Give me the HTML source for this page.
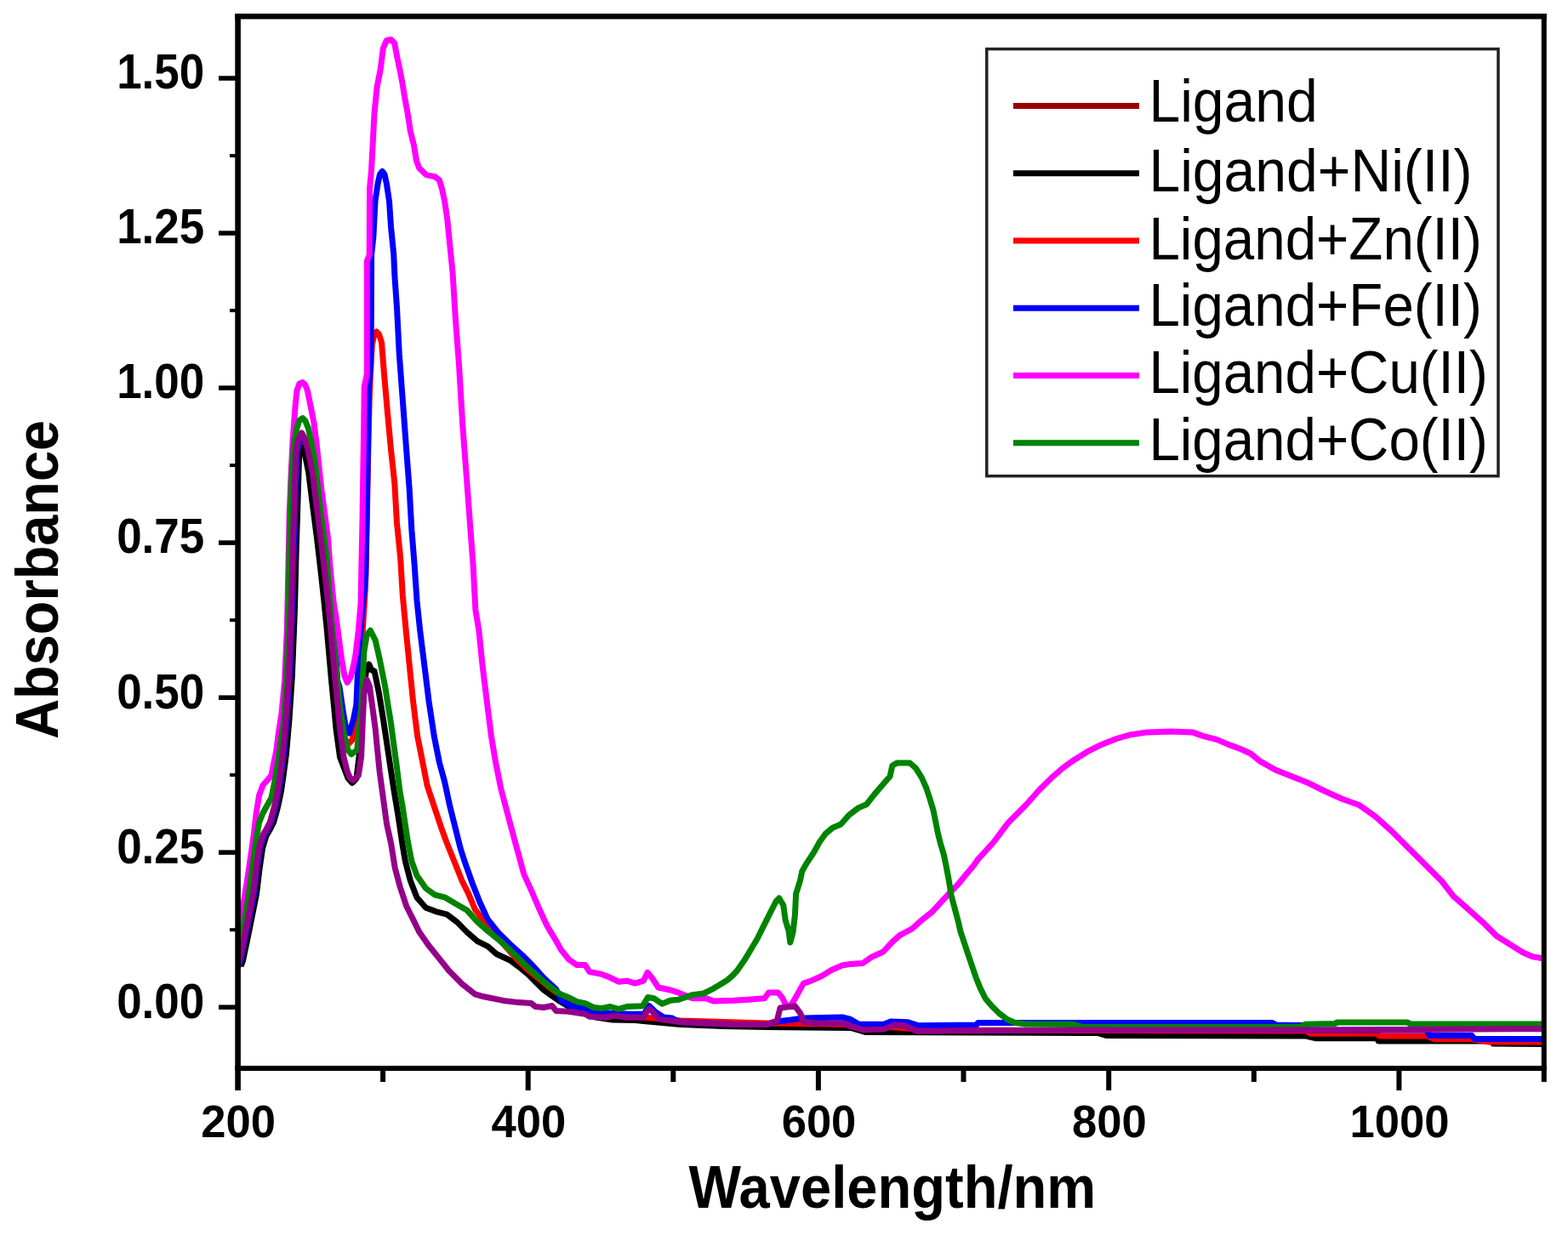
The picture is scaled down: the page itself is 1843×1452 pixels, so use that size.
<!DOCTYPE html>
<html><head><meta charset="utf-8"><title>UV-Vis absorbance spectra</title>
<style>html,body{margin:0;padding:0;background:#fff;}body{width:1843px;height:1452px;overflow:hidden;}svg{display:block;}</style>
</head><body>
<svg width="1843" height="1452" viewBox="0 0 1843 1452">
<rect width="1843" height="1452" fill="#fff"/>
<defs><clipPath id="pc"><rect x="279" y="19" width="1536" height="1237"/></clipPath></defs>
<g clip-path="url(#pc)" fill="none" stroke-linejoin="round" stroke-linecap="butt">
<path d="M283.0,1136.0 L285.4,1130.0 L290.7,1104.8 L296.1,1078.0 L301.5,1051.0 L305.0,1022.0 L308.6,997.0 L313.0,982.5 L317.0,976.0 L321.5,967.0 L326.5,949.0 L330.5,930.0 L333.5,909.0 L336.5,886.0 L340.0,846.0 L343.3,796.0 L345.5,741.0 L346.6,711.0 L348.0,653.0 L349.8,595.0 L351.6,537.3 L354.0,519.0 L355.0,519.0 L357.5,521.0 L356.9,526.7 L362.7,555.6 L367.5,594.0 L372.5,632.7 L377.0,671.0 L380.7,705.0 L384.0,738.0 L386.5,766.0 L390.0,805.0 L392.5,830.0 L395.0,857.0 L399.5,890.0 L409.0,915.0 L413.9,920.5 L419.0,915.0 L422.0,890.0 L425.0,845.0 L428.0,805.0 L431.0,786.0 L433.7,781.0 L437.0,788.0 L440.0,788.8 L445.2,813.6 L450.3,844.6 L456.5,886.0 L462.7,927.3 L467.9,958.3 L473.2,994.0 L476.4,1012.7 L482.4,1035.5 L490.0,1055.2 L500.6,1067.3 L512.7,1071.8 L524.8,1074.8 L537.0,1083.9 L549.1,1096.1 L561.2,1106.7 L573.3,1112.7 L583.9,1121.8 L599.5,1129.0 L609.8,1136.6 L619.5,1144.4 L629.3,1154.2 L639.1,1164.0 L648.8,1170.8 L658.6,1177.6 L670.3,1184.5 L700.0,1196.0 L720.0,1199.0 L746.5,1199.5 L800.0,1204.5 L850.0,1206.5 L900.0,1207.5 L1000.0,1208.5 L1017.0,1213.5 L1290.0,1214.5 L1300.0,1217.5 L1535.0,1218.0 L1546.0,1220.7 L1619.0,1220.7 L1620.0,1224.0 L1753.0,1224.0 L1755.0,1227.0 L1820.0,1227.5" stroke="#000000" stroke-width="7.0"/>
<path d="M280.0,1136.5 L282.4,1130.5 L287.7,1105.3 L293.1,1078.5 L298.5,1051.5 L302.0,1022.5 L305.6,997.5 L310.0,983.0 L314.0,976.5 L318.5,967.5 L323.5,949.5 L327.5,930.5 L330.5,909.5 L333.5,886.5 L337.0,846.5 L340.3,796.5 L342.5,741.5 L343.6,711.5 L345.0,653.5 L346.8,595.5 L348.6,537.8 L351.0,519.5 L355.0,517.0 L358.0,520.0 L363.9,526.7 L369.7,555.6 L374.5,594.0 L379.5,632.7 L384.0,671.0 L387.7,705.0 L391.0,738.0 L393.5,766.0 L397.0,805.0 L399.5,830.0 L401.0,850.0 L404.5,866.0 L408.9,875.2 L414.0,870.0 L419.7,848.8 L424.0,780.0 L427.0,730.0 L429.5,690.0 L431.5,600.0 L433.0,520.0 L434.3,465.0 L435.7,435.0 L437.3,405.0 L440.0,393.0 L442.5,390.0 L445.5,393.0 L448.6,402.7 L451.4,438.6 L455.5,485.4 L459.6,529.5 L463.8,568.1 L466.5,615.0 L470.7,656.4 L473.3,700.0 L477.2,741.3 L481.3,782.6 L485.5,824.0 L490.6,865.3 L496.8,896.3 L502.0,923.1 L510.2,947.9 L518.5,972.7 L524.8,990.0 L533.9,1012.7 L543.0,1035.5 L550.6,1050.6 L558.2,1068.8 L567.3,1080.9 L576.4,1091.5 L590.0,1108.0 L606.7,1127.0 L620.0,1140.0 L635.0,1152.0 L650.0,1164.0 L665.0,1175.0 L680.0,1184.0 L700.0,1191.5 L740.0,1194.5 L800.0,1200.0 L900.0,1203.0 L1000.0,1204.5 L1080.0,1210.0 L1100.0,1211.0 L1536.0,1212.0 L1540.0,1215.3 L1619.0,1215.3 L1621.0,1218.0 L1677.0,1218.0 L1686.0,1221.8 L1730.0,1221.8 L1750.0,1225.0 L1820.0,1225.0" stroke="#ff0000" stroke-width="7.0"/>
<path d="M280.0,1136.0 L282.4,1130.0 L287.7,1104.8 L293.1,1078.0 L298.5,1051.0 L302.0,1022.0 L305.6,997.0 L310.0,982.5 L314.0,976.0 L318.5,967.0 L323.5,949.0 L327.5,930.0 L330.5,909.0 L333.5,886.0 L337.0,846.0 L340.3,796.0 L342.5,741.0 L343.6,711.0 L345.0,653.0 L346.8,595.0 L348.6,537.3 L351.0,519.0 L355.0,516.0 L358.0,519.0 L362.9,526.7 L368.7,555.6 L373.5,594.0 L378.5,632.7 L383.0,671.0 L386.9,705.0 L391.3,738.0 L394.7,766.0 L396.5,800.0 L399.0,807.4 L403.1,835.5 L406.4,855.4 L410.6,862.0 L415.5,845.5 L418.8,828.9 L420.5,790.9 L423.0,749.6 L426.0,715.0 L429.7,678.0 L432.7,513.0 L433.5,455.0 L435.5,430.0 L436.3,380.0 L436.6,300.0 L438.9,277.9 L441.0,236.6 L444.1,216.0 L446.5,205.0 L449.3,201.5 L452.0,205.0 L454.4,216.0 L457.5,236.6 L459.6,267.6 L462.7,298.6 L464.1,327.5 L466.5,361.4 L469.3,416.5 L473.4,471.6 L477.5,526.8 L481.1,573.7 L483.9,623.3 L487.2,664.6 L490.0,706.0 L493.7,741.3 L498.9,782.6 L504.0,824.0 L510.2,865.3 L516.4,896.3 L522.6,919.0 L528.8,947.9 L535.0,972.7 L541.2,997.5 L546.1,1012.7 L555.2,1038.5 L564.2,1061.2 L573.3,1080.9 L585.5,1096.1 L600.6,1111.2 L614.2,1123.3 L626.4,1135.5 L638.5,1149.1 L653.6,1163.0 L660.0,1177.0 L671.3,1182.5 L683.0,1185.4 L692.8,1188.4 L717.2,1191.3 L739.6,1192.3 L757.0,1192.0 L763.0,1182.5 L770.9,1190.3 L780.0,1196.0 L790.0,1197.0 L797.7,1201.4 L830.2,1203.0 L862.8,1204.6 L901.9,1204.3 L913.0,1201.0 L930.0,1199.0 L944.0,1197.0 L990.0,1196.0 L999.8,1198.5 L1009.5,1204.2 L1038.8,1204.2 L1047.0,1201.0 L1066.5,1201.7 L1079.5,1205.8 L1147.9,1205.0 L1149.5,1202.5 L1495.0,1202.5 L1500.0,1205.0 L1532.0,1205.5 L1538.0,1211.0 L1677.0,1211.0 L1680.0,1217.5 L1730.0,1217.5 L1733.0,1221.5 L1820.0,1221.5" stroke="#0000ff" stroke-width="7.0"/>
<path d="M279.0,1086.0 L281.4,1082.0 L286.7,1059.0 L291.0,1032.0 L294.8,1006.0 L298.4,980.0 L301.2,956.0 L304.6,935.0 L309.1,923.0 L314.5,917.0 L319.0,911.5 L321.6,898.0 L324.7,883.3 L327.6,860.0 L331.0,838.9 L334.6,800.0 L337.3,740.0 L338.0,710.0 L339.2,652.0 L340.2,603.8 L342.2,555.6 L344.1,517.0 L347.0,478.5 L348.9,459.3 L352.0,451.0 L355.6,449.6 L358.5,452.0 L361.4,459.3 L365.3,478.5 L369.1,497.8 L372.0,520.9 L374.9,547.9 L377.8,574.9 L381.7,603.8 L385.5,632.7 L388.4,671.2 L392.3,709.7 L394.9,724.8 L398.2,749.6 L401.5,774.4 L404.8,794.2 L408.1,802.5 L412.2,795.9 L415.5,782.6 L418.0,769.4 L421.3,741.3 L424.0,710.0 L426.0,610.0 L427.7,500.0 L428.2,455.0 L431.3,440.0 L431.3,307.0 L434.2,300.0 L434.5,222.0 L436.5,200.0 L437.9,174.6 L440.0,133.3 L443.1,102.3 L447.2,81.7 L450.3,56.9 L454.4,47.5 L459.6,46.5 L463.7,50.7 L466.8,67.2 L469.9,81.7 L473.0,98.2 L476.1,116.8 L479.2,133.3 L482.3,154.0 L486.4,170.5 L489.5,189.1 L492.6,197.4 L500.9,205.6 L511.2,207.7 L516.4,211.8 L519.5,222.1 L522.6,236.6 L525.7,257.3 L528.8,288.3 L532.0,320.0 L535.4,375.1 L539.6,430.3 L543.7,499.2 L547.9,554.4 L552.0,609.5 L556.1,664.6 L558.9,717.0 L562.9,741.3 L567.1,782.6 L572.2,824.0 L577.4,865.3 L582.6,896.3 L588.8,927.3 L597.0,958.3 L605.3,989.3 L609.7,1005.2 L615.8,1027.9 L624.8,1047.6 L633.9,1068.8 L643.0,1088.5 L652.1,1103.6 L659.7,1117.0 L668.4,1127.8 L678.1,1134.6 L687.9,1134.6 L692.8,1142.5 L707.4,1145.4 L717.2,1149.3 L727.0,1154.2 L736.7,1153.2 L746.5,1156.1 L756.3,1153.2 L761.1,1143.4 L766.0,1149.3 L773.8,1161.0 L787.9,1164.0 L797.7,1167.2 L814.0,1173.7 L830.2,1173.7 L838.4,1177.0 L862.8,1176.2 L879.1,1175.3 L898.6,1173.7 L903.5,1167.0 L914.5,1167.0 L919.5,1173.0 L923.5,1181.0 L928.0,1183.5 L933.2,1176.3 L939.4,1165.1 L944.3,1156.4 L954.2,1152.7 L965.4,1147.7 L977.8,1140.3 L990.0,1135.0 L999.6,1133.4 L1014.1,1132.5 L1023.8,1125.7 L1038.2,1119.0 L1047.9,1108.4 L1057.5,1099.7 L1072.0,1092.0 L1081.6,1083.3 L1096.1,1071.7 L1105.7,1061.1 L1115.4,1050.5 L1125.0,1040.9 L1134.6,1029.3 L1144.3,1017.7 L1149.0,1010.9 L1168.0,990.0 L1185.1,967.2 L1206.0,946.3 L1221.1,929.3 L1236.3,914.1 L1249.6,902.7 L1262.9,893.2 L1278.1,883.7 L1293.3,876.1 L1312.3,868.5 L1329.4,863.7 L1348.4,860.9 L1376.9,859.9 L1401.6,860.9 L1414.8,865.6 L1430.0,869.4 L1443.3,875.1 L1458.5,880.8 L1470.0,886.0 L1481.7,895.4 L1499.3,905.2 L1518.8,913.0 L1538.4,920.8 L1557.9,930.5 L1577.4,939.3 L1597.0,946.2 L1616.5,959.8 L1636.0,977.4 L1655.5,997.0 L1675.1,1016.5 L1694.6,1036.0 L1708.3,1053.6 L1723.9,1067.3 L1743.4,1084.8 L1759.1,1100.5 L1774.7,1110.2 L1790.3,1120.0 L1802.0,1124.9 L1813.8,1126.8 L1820.0,1127.0" stroke="#ff00ff" stroke-width="7.0"/>
<path d="M279.0,1118.0 L281.4,1112.7 L288.5,1077.0 L293.9,1041.0 L297.5,1014.0 L301.0,987.0 L304.6,967.0 L309.0,956.0 L312.0,950.5 L319.0,938.0 L323.4,916.0 L327.9,889.0 L330.5,870.0 L334.0,845.0 L337.0,790.0 L339.0,740.0 L340.2,642.3 L343.1,555.6 L346.0,520.0 L348.9,503.6 L352.0,494.0 L355.6,491.5 L359.0,495.0 L362.4,503.6 L366.2,521.0 L370.1,542.0 L375.9,594.0 L379.7,623.0 L383.6,652.0 L386.5,690.5 L389.9,733.0 L394.9,782.6 L399.8,832.2 L404.8,865.3 L408.9,881.8 L413.0,886.8 L419.7,881.8 L424.6,832.2 L427.9,766.1 L431.2,746.3 L435.4,741.3 L441.2,752.9 L446.1,774.4 L449.4,790.9 L452.7,807.4 L456.0,828.9 L459.3,848.8 L462.6,873.6 L466.0,898.3 L470.1,931.4 L473.1,947.9 L479.3,989.3 L483.9,1012.7 L490.0,1029.4 L500.6,1044.5 L511.2,1052.1 L523.3,1055.2 L538.5,1064.2 L549.1,1070.3 L561.2,1083.9 L573.3,1094.5 L588.5,1106.7 L603.6,1121.0 L619.5,1136.6 L629.3,1145.4 L639.1,1154.2 L648.8,1162.0 L658.6,1168.8 L668.4,1172.7 L678.1,1177.6 L687.9,1179.6 L697.7,1184.5 L707.4,1185.4 L717.2,1183.5 L727.0,1186.4 L736.7,1183.5 L755.3,1182.7 L761.5,1172.5 L768.4,1173.7 L778.1,1180.2 L787.9,1176.2 L797.7,1175.3 L814.0,1169.6 L827.0,1168.0 L838.4,1162.3 L846.5,1157.4 L854.6,1152.6 L861.0,1147.0 L866.2,1141.5 L874.9,1129.1 L882.3,1116.7 L889.8,1104.3 L897.2,1089.4 L904.6,1074.6 L912.1,1059.7 L915.8,1056.0 L920.8,1064.6 L923.2,1082.0 L927.0,1094.4 L928.8,1108.0 L931.9,1096.9 L934.4,1075.8 L935.6,1051.0 L940.6,1034.9 L942.8,1024.3 L948.3,1014.6 L956.5,1002.2 L963.4,989.8 L970.3,980.2 L978.6,973.3 L988.2,969.2 L997.9,958.2 L1008.9,949.9 L1018.5,945.8 L1028.2,933.4 L1037.8,922.3 L1046.1,912.7 L1048.8,900.3 L1054.3,897.0 L1069.5,897.0 L1076.4,903.1 L1083.3,914.1 L1088.8,926.5 L1092.9,938.9 L1097.0,952.6 L1099.8,966.4 L1102.5,980.2 L1105.3,991.2 L1109.4,1005.0 L1112.2,1018.8 L1114.9,1033.0 L1118.3,1053.4 L1122.1,1067.9 L1126.0,1082.3 L1128.9,1094.9 L1132.7,1106.4 L1137.5,1120.9 L1142.4,1135.4 L1147.1,1149.2 L1152.1,1161.6 L1158.3,1174.0 L1165.7,1182.7 L1174.4,1191.4 L1184.3,1198.8 L1193.0,1202.5 L1205.4,1204.0 L1262.0,1204.5 L1272.0,1207.5 L1528.0,1207.5 L1534.0,1204.2 L1569.0,1203.5 L1572.0,1202.0 L1654.0,1202.0 L1658.0,1204.0 L1820.0,1204.0" stroke="#008300" stroke-width="7.0"/>
<path d="M279.0,1135.0 L281.4,1129.0 L286.7,1103.8 L292.1,1077.0 L297.5,1050.0 L301.0,1021.0 L304.6,996.0 L309.0,981.5 L313.0,975.0 L317.5,966.0 L322.5,948.0 L326.5,929.0 L329.5,908.0 L332.5,885.0 L336.0,845.0 L339.3,795.0 L341.5,740.0 L342.6,710.0 L344.0,652.0 L345.8,594.0 L347.6,536.3 L350.0,518.0 L354.7,509.0 L358.0,515.0 L361.4,526.7 L367.2,555.6 L372.0,594.0 L377.0,632.7 L381.5,671.0 L385.2,705.0 L388.5,738.0 L391.0,766.0 L394.5,805.0 L397.0,830.0 L399.5,857.0 L404.0,890.0 L408.5,908.0 L411.5,914.5 L414.7,917.5 L421.3,911.6 L424.6,890.0 L426.3,848.8 L427.9,815.7 L431.2,799.2 L434.5,807.4 L437.9,832.2 L441.2,857.0 L443.6,881.8 L446.1,906.6 L450.3,937.6 L454.5,968.6 L459.7,992.0 L464.2,1020.3 L470.3,1043.0 L477.9,1065.8 L485.5,1080.9 L493.0,1096.1 L503.6,1111.2 L515.8,1126.4 L527.9,1141.5 L543.0,1156.7 L558.2,1168.8 L568.8,1171.8 L591.5,1176.4 L609.8,1178.6 L624.4,1179.6 L629.3,1183.5 L639.1,1184.5 L648.8,1182.5 L653.7,1188.4 L668.4,1189.3 L687.9,1192.3 L692.8,1195.2 L712.3,1196.2 L722.1,1194.2 L736.7,1196.2 L756.3,1196.2 L762.1,1186.4 L766.0,1188.4 L773.8,1198.1 L797.7,1201.4 L830.2,1203.0 L862.8,1204.6 L901.9,1204.6 L913.3,1199.8 L917.0,1185.0 L934.4,1182.7 L940.9,1191.6 L944.2,1201.4 L960.5,1203.0 L990.0,1203.0 L999.8,1206.6 L1014.4,1210.7 L1038.8,1209.9 L1051.9,1205.0 L1063.3,1205.8 L1077.9,1212.3 L1290.0,1211.0 L1560.0,1211.0 L1820.0,1209.6" stroke="#940089" stroke-width="7.0"/>
</g>
<g stroke="#000" fill="none">
<line x1="279.6" y1="16" x2="279.6" y2="1282" stroke-width="6.6"/>
<line x1="276.3" y1="19.3" x2="1817.8" y2="19.3" stroke-width="6.4"/>
<line x1="1814.8" y1="16.1" x2="1814.8" y2="1272" stroke-width="6"/>
<line x1="276.3" y1="1256" x2="1817.8" y2="1256" stroke-width="6"/>
<line x1="620.7" y1="1256" x2="620.7" y2="1282" stroke-width="6"/>
<line x1="961.9" y1="1256" x2="961.9" y2="1282" stroke-width="6"/>
<line x1="1303.2" y1="1256" x2="1303.2" y2="1282" stroke-width="6"/>
<line x1="1644.4" y1="1256" x2="1644.4" y2="1282" stroke-width="6"/>
<line x1="450.1" y1="1256" x2="450.1" y2="1272" stroke-width="6"/>
<line x1="791.3" y1="1256" x2="791.3" y2="1272" stroke-width="6"/>
<line x1="1132.5" y1="1256" x2="1132.5" y2="1272" stroke-width="6"/>
<line x1="1473.8" y1="1256" x2="1473.8" y2="1272" stroke-width="6"/>
<line x1="257" y1="1184.2" x2="280" y2="1184.2" stroke-width="5.5"/>
<line x1="257" y1="1002.2" x2="280" y2="1002.2" stroke-width="5.5"/>
<line x1="257" y1="820.2" x2="280" y2="820.2" stroke-width="5.5"/>
<line x1="257" y1="638.1" x2="280" y2="638.1" stroke-width="5.5"/>
<line x1="257" y1="456.1" x2="280" y2="456.1" stroke-width="5.5"/>
<line x1="257" y1="274.1" x2="280" y2="274.1" stroke-width="5.5"/>
<line x1="257" y1="92.0" x2="280" y2="92.0" stroke-width="5.5"/>
<line x1="270" y1="1093.2" x2="280" y2="1093.2" stroke-width="4"/>
<line x1="270" y1="911.2" x2="280" y2="911.2" stroke-width="4"/>
<line x1="270" y1="729.1" x2="280" y2="729.1" stroke-width="4"/>
<line x1="270" y1="547.1" x2="280" y2="547.1" stroke-width="4"/>
<line x1="270" y1="365.1" x2="280" y2="365.1" stroke-width="4"/>
<line x1="270" y1="183.1" x2="280" y2="183.1" stroke-width="4"/>
</g>
<g font-family="'Liberation Sans', Arial, sans-serif" font-weight="bold" font-size="57" fill="#000">
<text transform="translate(240.3,1196.5) scale(0.93,1)" text-anchor="end">0.00</text>
<text transform="translate(240.3,1014.5) scale(0.93,1)" text-anchor="end">0.25</text>
<text transform="translate(240.3,832.5) scale(0.93,1)" text-anchor="end">0.50</text>
<text transform="translate(240.3,650.4) scale(0.93,1)" text-anchor="end">0.75</text>
<text transform="translate(240.3,468.4) scale(0.93,1)" text-anchor="end">1.00</text>
<text transform="translate(240.3,286.4) scale(0.93,1)" text-anchor="end">1.25</text>
<text transform="translate(240.3,104.3) scale(0.93,1)" text-anchor="end">1.50</text>
<text transform="translate(280.1,1337.3) scale(0.965,1)" font-size="54.5" text-anchor="middle">200</text>
<text transform="translate(621.3,1337.3) scale(0.965,1)" font-size="54.5" text-anchor="middle">400</text>
<text transform="translate(962.5,1337.3) scale(0.965,1)" font-size="54.5" text-anchor="middle">600</text>
<text transform="translate(1303.8,1337.3) scale(0.965,1)" font-size="54.5" text-anchor="middle">800</text>
<text transform="translate(1645.0,1337.3) scale(0.965,1)" font-size="54.5" text-anchor="middle">1000</text>
</g>
<text transform="translate(1048.9,1419.6) scale(0.921,1)" text-anchor="middle" font-family="'Liberation Sans', Arial, sans-serif" font-weight="bold" font-size="70.7">Wavelength/nm</text>
<text transform="translate(68.4,681.3) rotate(-90) scale(0.928,1)" text-anchor="middle" font-family="'Liberation Sans', Arial, sans-serif" font-weight="bold" font-size="69.9">Absorbance</text>
<rect x="1159.8" y="57.6" width="601.2" height="502.1" fill="#fff" stroke="#222" stroke-width="3.5"/>
<g font-family="'Liberation Sans', Arial, sans-serif" font-size="70.3" fill="#000">
<line x1="1191" y1="124.5" x2="1339" y2="124.5" stroke="#9a0000" stroke-width="7"/>
<text transform="translate(1350.4,142.6) scale(0.94,1)">Ligand</text>
<line x1="1191" y1="203.8" x2="1339" y2="203.8" stroke="#000000" stroke-width="7"/>
<text transform="translate(1350.4,225.2) scale(0.94,1)">Ligand+Ni(II)</text>
<line x1="1191" y1="283.0" x2="1339" y2="283.0" stroke="#ff0000" stroke-width="7"/>
<text transform="translate(1350.4,304.5) scale(0.932,1)">Ligand+Zn(II)</text>
<line x1="1191" y1="362.2" x2="1339" y2="362.2" stroke="#0000ff" stroke-width="7"/>
<text transform="translate(1350.4,382.6) scale(0.932,1)">Ligand+Fe(II)</text>
<line x1="1191" y1="441.5" x2="1339" y2="441.5" stroke="#ff00ff" stroke-width="7"/>
<text transform="translate(1350.4,461.9) scale(0.931,1)">Ligand+Cu(II)</text>
<line x1="1191" y1="520.8" x2="1339" y2="520.8" stroke="#008300" stroke-width="7"/>
<text transform="translate(1350.4,541.2) scale(0.931,1)">Ligand+Co(II)</text>
</g>
</svg>
</body></html>
